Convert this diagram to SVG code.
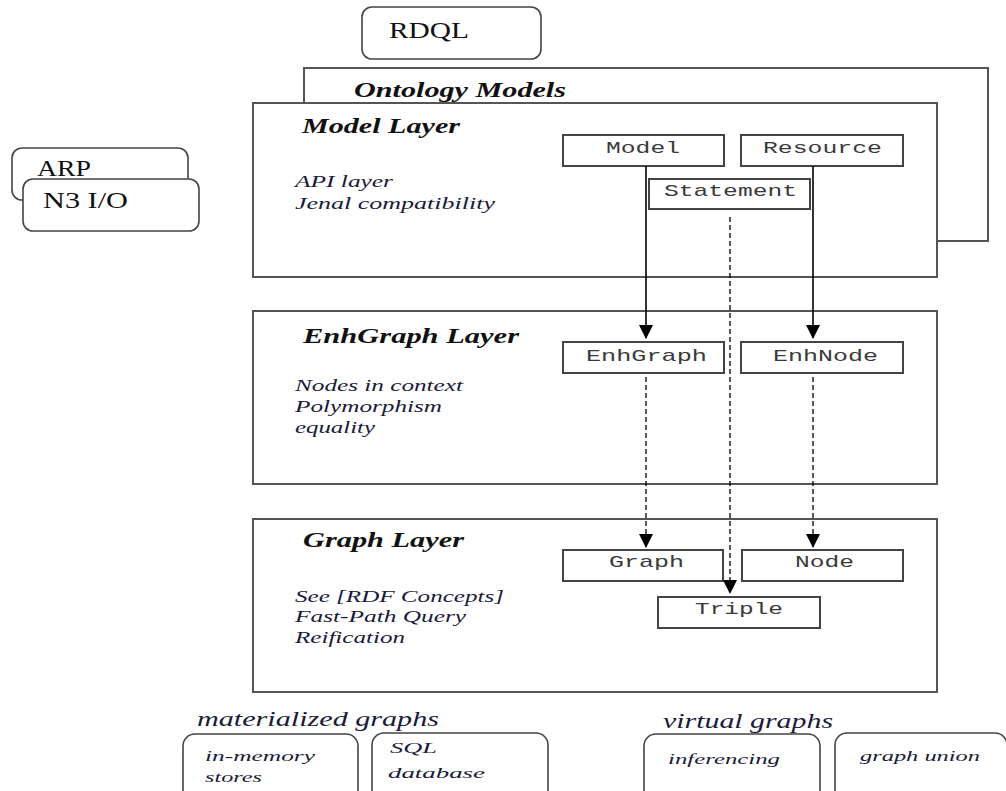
<svg xmlns="http://www.w3.org/2000/svg" width="1006" height="791" viewBox="0 0 1006 791">
<style>
.frame{fill:#fff;stroke:#555;stroke-width:2}
.rbox{fill:#fff;stroke:#444;stroke-width:1.6}
.cls{fill:#fff;stroke:#444;stroke-width:2}
.title{font-family:"Liberation Serif",serif;font-weight:bold;font-style:italic;font-size:22px;fill:#111}
.note{font-family:"Liberation Serif",serif;font-style:italic;font-size:16px;fill:#1a1a3a}
.mono{font-family:"Liberation Mono",monospace;font-size:17px;fill:#3a3a3a}
.plain{font-family:"Liberation Serif",serif;font-size:23px;fill:#111}
.bot{font-family:"Liberation Serif",serif;font-style:italic;font-size:21px;fill:#1a1a3a}
.botsm{font-family:"Liberation Serif",serif;font-style:italic;font-size:15px;fill:#1a1a3a}
.solid{stroke:#000;stroke-width:1.6;fill:none}
.dash{stroke:#000;stroke-width:1.3;fill:none;stroke-dasharray:5,3}
</style>
<defs>
<marker id="arr" markerUnits="userSpaceOnUse" markerWidth="14" markerHeight="14" viewBox="0 0 14 14" refX="13" refY="7" orient="auto">
<path d="M0,0 L14,7 L0,14 Z" fill="#000"/>
</marker>
</defs>

<g id="rdql">
<rect class="rbox" x="362" y="7" width="179" height="52" rx="10"/>
<text class="plain" x="389" y="38" textLength="80" lengthAdjust="spacingAndGlyphs">RDQL</text>
</g>

<g id="arp">
<rect class="rbox" x="12" y="148" width="176" height="52" rx="10"/>
<text class="plain" x="37" y="176" font-size="19" textLength="54" lengthAdjust="spacingAndGlyphs">ARP</text>
</g>
<g id="n3io">
<rect class="rbox" x="23" y="179" width="176" height="52" rx="10"/>
<text class="plain" x="43" y="208" font-size="19" textLength="85" lengthAdjust="spacingAndGlyphs">N3 I/O</text>
</g>

<g id="ontology-models">
<rect class="frame" x="304" y="68" width="684" height="173"/>
<text class="title" x="354" y="97" textLength="212" lengthAdjust="spacingAndGlyphs">Ontology Models</text>
</g>

<g id="model-layer">
<rect class="frame" x="253" y="103" width="684" height="174"/>
<text class="title" x="302" y="133" textLength="158" lengthAdjust="spacingAndGlyphs">Model Layer</text>
<text class="note" x="295" y="187" textLength="98" lengthAdjust="spacingAndGlyphs">API layer</text>
<text class="note" x="295" y="209" textLength="200" lengthAdjust="spacingAndGlyphs">Jenal compatibility</text>
</g>

<g id="enhgraph-layer">
<rect class="frame" x="253" y="311" width="684" height="173"/>
<text class="title" x="303" y="343" textLength="216" lengthAdjust="spacingAndGlyphs">EnhGraph Layer</text>
<text class="note" x="295" y="391" textLength="168" lengthAdjust="spacingAndGlyphs">Nodes in context</text>
<text class="note" x="295" y="412" textLength="147" lengthAdjust="spacingAndGlyphs">Polymorphism</text>
<text class="note" x="295" y="433" textLength="80" lengthAdjust="spacingAndGlyphs">equality</text>
</g>

<g id="graph-layer">
<rect class="frame" x="253" y="519" width="684" height="173"/>
<text class="title" x="303" y="547" textLength="161" lengthAdjust="spacingAndGlyphs">Graph Layer</text>
<text class="note" x="295" y="602" textLength="209" lengthAdjust="spacingAndGlyphs">See [RDF Concepts]</text>
<text class="note" x="295" y="622" textLength="171" lengthAdjust="spacingAndGlyphs">Fast-Path Query</text>
<text class="note" x="295" y="643" textLength="110" lengthAdjust="spacingAndGlyphs">Reification</text>
</g>

<g id="model">
<rect class="cls" x="563" y="135" width="161" height="31"/>
<text class="mono" x="606" y="153" textLength="74" lengthAdjust="spacingAndGlyphs">Model</text>
</g>
<g id="resource">
<rect class="cls" x="741" y="135" width="162" height="31"/>
<text class="mono" x="763" y="153" textLength="119" lengthAdjust="spacingAndGlyphs">Resource</text>
</g>
<g id="statement">
<rect class="cls" x="649" y="179" width="161" height="30"/>
<text class="mono" x="664" y="196" textLength="133" lengthAdjust="spacingAndGlyphs">Statement</text>
</g>
<g id="enhgraph">
<rect class="cls" x="563" y="342" width="161" height="31"/>
<text class="mono" x="586" y="361" textLength="121" lengthAdjust="spacingAndGlyphs">EnhGraph</text>
</g>
<g id="enhnode">
<rect class="cls" x="741" y="342" width="162" height="31"/>
<text class="mono" x="773" y="361" textLength="105" lengthAdjust="spacingAndGlyphs">EnhNode</text>
</g>
<g id="graph">
<rect class="cls" x="563" y="550" width="160" height="31"/>
<text class="mono" x="609" y="567" textLength="75" lengthAdjust="spacingAndGlyphs">Graph</text>
</g>
<g id="node">
<rect class="cls" x="742" y="550" width="161" height="31"/>
<text class="mono" x="795" y="567" textLength="59" lengthAdjust="spacingAndGlyphs">Node</text>
</g>
<g id="triple">
<rect class="cls" x="658" y="597" width="162" height="31"/>
<text class="mono" x="695" y="614" textLength="88" lengthAdjust="spacingAndGlyphs">Triple</text>
</g>

<g id="connectors">
<line class="solid" x1="646" y1="166" x2="646" y2="338" marker-end="url(#arr)"/>
<line class="solid" x1="813" y1="166" x2="813" y2="338" marker-end="url(#arr)"/>
<line class="dash" x1="646" y1="377" x2="646" y2="547" marker-end="url(#arr)"/>
<line class="dash" x1="813" y1="377" x2="813" y2="547" marker-end="url(#arr)"/>
<line class="dash" x1="730" y1="217" x2="730" y2="593" marker-end="url(#arr)"/>
</g>

<g id="materialized">
<text class="bot" x="197" y="726" textLength="242" lengthAdjust="spacingAndGlyphs">materialized graphs</text>
</g>
<g id="in-memory">
<rect class="rbox" x="183" y="734" width="175" height="70" rx="12"/>
<text class="botsm" x="205" y="761" textLength="110" lengthAdjust="spacingAndGlyphs">in-memory</text>
<text class="botsm" x="205" y="782" textLength="57" lengthAdjust="spacingAndGlyphs">stores</text>
</g>
<g id="sql">
<rect class="rbox" x="372" y="733" width="176" height="70" rx="12"/>
<text class="botsm" x="390" y="753" textLength="47" lengthAdjust="spacingAndGlyphs">SQL</text>
<text class="botsm" x="388" y="778" textLength="97" lengthAdjust="spacingAndGlyphs">database</text>
</g>
<g id="virtual">
<text class="bot" x="663" y="728" textLength="170" lengthAdjust="spacingAndGlyphs">virtual graphs</text>
</g>
<g id="inferencing">
<rect class="rbox" x="644" y="734" width="176" height="70" rx="12"/>
<text class="botsm" x="668" y="764" textLength="112" lengthAdjust="spacingAndGlyphs">inferencing</text>
</g>
<g id="graph-union">
<rect class="rbox" x="835" y="733" width="172" height="70" rx="12"/>
<text class="botsm" x="860" y="761" textLength="120" lengthAdjust="spacingAndGlyphs">graph union</text>
</g>
</svg>
